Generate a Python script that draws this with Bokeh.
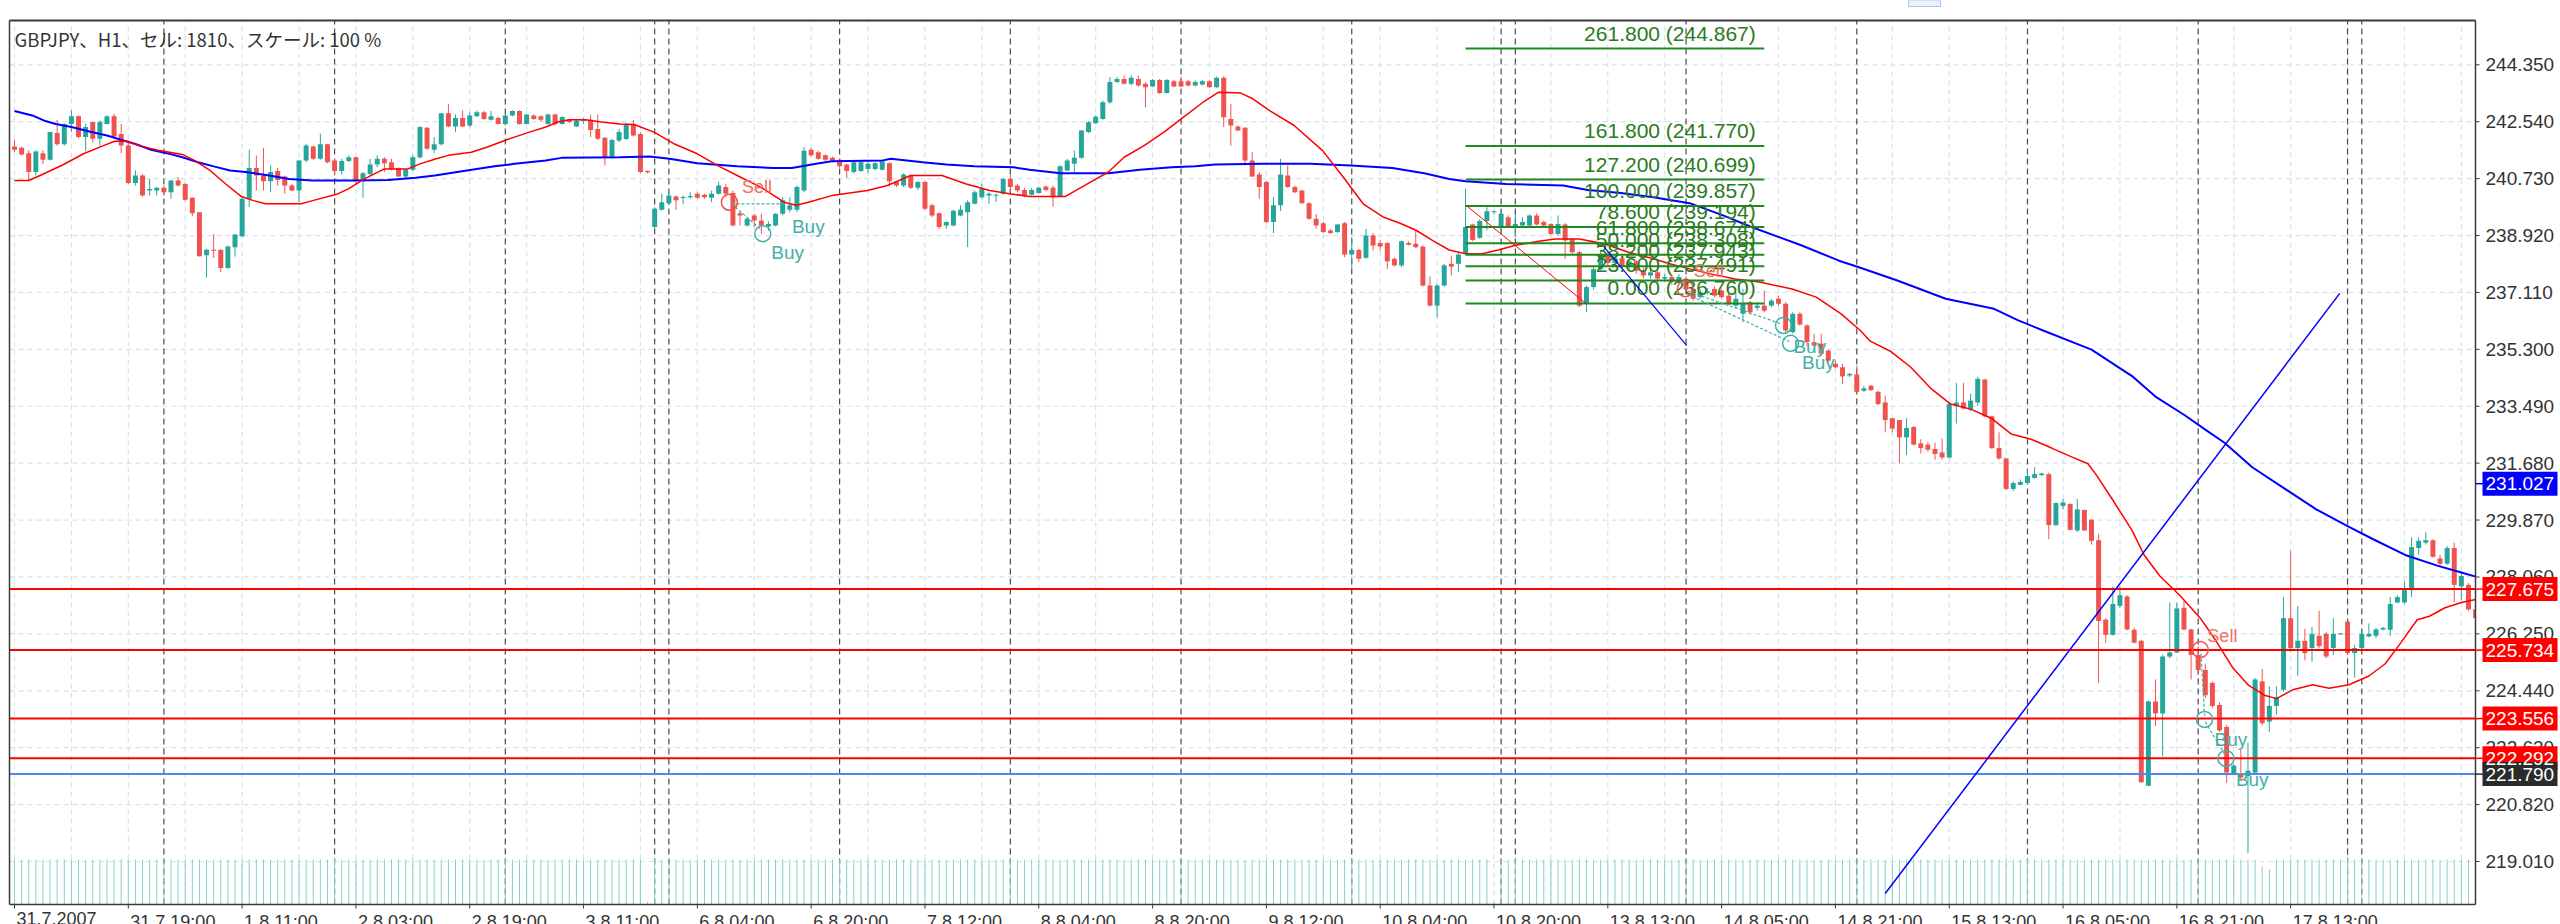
from bokeh.plotting import figure
from bokeh.models import Range1d
from bokeh.core.properties import value
from bokeh.embed import file_html
from bokeh.resources import INLINE

# ---------------- DATA ----------------
title_text = "GBPJPY、H1、セル: 1810、スケール: 100 %"

opens = [
    241.75, 241.71, 241.54, 240.94, 241.54, 241.33, 242.18, 241.82, 242.47, 242.71,
    242.05, 242.53, 242.00, 242.47, 242.71, 242.15, 241.78, 240.59, 240.83, 240.35,
    240.35, 240.44, 240.30, 240.67, 240.56, 240.12, 239.66, 238.29, 238.47, 238.47,
    237.89, 238.55, 238.90, 240.09, 241.07, 240.83, 240.65, 240.97, 240.80, 240.51,
    240.35, 241.31, 241.75, 241.36, 241.82, 241.31, 240.97, 241.29, 241.41, 240.67,
    240.88, 241.18, 241.36, 241.25, 241.07, 240.80, 241.01, 241.41, 242.35, 241.65,
    241.82, 242.81, 242.39, 242.66, 242.42, 242.71, 242.84, 242.60, 242.66, 242.47,
    242.74, 242.88, 242.47, 242.74, 242.71, 242.47, 242.77, 242.47, 242.60, 242.39,
    242.56, 242.60, 242.31, 242.03, 241.39, 241.94, 241.99, 242.45, 242.15, 240.97,
    239.19, 239.74, 239.95, 240.16, 240.12, 240.14, 240.25, 240.22, 240.12, 240.25,
    240.46, 240.27, 239.63, 239.24, 239.56, 239.40, 239.21, 239.24, 239.61, 239.74,
    239.74, 240.35, 241.65, 241.57, 241.47, 241.39, 241.33, 241.18, 240.94, 240.97,
    241.04, 241.04, 241.01, 241.22, 240.62, 240.51, 240.83, 240.44, 240.62, 239.88,
    239.63, 239.24, 239.24, 239.56, 239.66, 239.93, 240.14, 240.19, 240.19, 240.25,
    240.72, 240.51, 240.37, 240.22, 240.27, 240.48, 240.44, 240.16, 240.99, 241.20,
    241.39, 242.21, 242.49, 242.63, 243.16, 243.80, 243.90, 243.75, 243.90, 243.75,
    243.66, 243.87, 243.45, 243.83, 243.83, 243.83, 243.69, 243.72, 243.83, 243.64,
    243.94, 242.63, 242.39, 242.35, 241.31, 240.86, 240.62, 239.35, 239.88, 240.83,
    240.46, 240.35, 239.95, 239.45, 239.31, 239.08, 239.03, 239.31, 238.32, 238.46,
    238.21, 238.92, 238.68, 238.68, 238.18, 237.97, 238.68, 238.66, 238.57, 237.33,
    236.69, 237.33, 238.02, 238.02, 238.34, 239.27, 238.85, 239.38, 239.66, 239.19,
    239.50, 239.19, 239.24, 239.24, 239.56, 239.35, 239.29, 238.97, 239.27, 238.81,
    238.39, 236.75, 237.28, 237.85, 238.30, 238.05, 238.20, 237.95, 238.10, 237.80,
    237.65, 237.75, 237.55, 237.60, 237.45, 237.55, 237.22, 236.96, 237.10, 237.22,
    237.17, 237.01, 236.69, 236.43, 236.80, 236.62, 236.69, 236.69, 236.91, 236.75,
    235.85, 236.43, 236.06, 235.53, 235.48, 235.26, 234.84, 234.73, 234.47, 234.50,
    233.98, 234.14, 233.95, 233.61, 233.11, 233.05, 232.50, 232.83, 232.31, 232.27,
    232.13, 232.02, 231.86, 233.50, 233.61, 233.39, 233.61, 234.34, 233.17, 232.16,
    231.83, 230.86, 230.99, 231.05, 231.21, 231.30, 231.33, 229.71, 230.32, 230.38,
    229.54, 230.19, 229.88, 229.23, 226.70, 226.22, 227.14, 227.44, 226.38, 226.03,
    221.42, 224.10, 223.72, 225.53, 225.66, 227.08, 226.39, 225.58, 225.10, 224.69,
    223.99, 223.29, 221.82, 221.82, 221.73, 221.84, 224.74, 223.46, 223.96, 224.47,
    226.75, 225.80, 226.03, 225.80, 226.19, 226.25, 225.80, 226.24, 226.64, 225.64,
    225.80, 226.17, 226.19, 226.39, 226.38, 227.25, 227.25, 227.64, 228.98, 229.15,
    229.23, 228.65, 228.48, 228.98, 227.76, 227.81, 227.03,
]
highs = [
    241.96, 241.75, 241.63, 241.63, 241.63, 242.21, 242.60, 242.49, 242.90, 242.74,
    242.47, 242.53, 242.58, 242.74, 242.79, 242.47, 241.94, 240.99, 240.88, 240.72,
    240.46, 240.51, 240.69, 240.78, 240.59, 240.14, 239.66, 238.50, 238.97, 238.47,
    238.60, 238.97, 240.12, 241.65, 241.47, 241.71, 241.15, 241.07, 240.83, 240.56,
    241.31, 241.84, 241.78, 242.16, 241.84, 241.36, 241.36, 241.47, 241.43, 240.94,
    241.36, 241.47, 241.41, 241.36, 241.09, 241.04, 241.47, 242.39, 242.37, 242.05,
    242.81, 243.11, 242.77, 242.90, 242.84, 242.90, 242.88, 242.88, 242.71, 242.79,
    242.90, 242.90, 242.79, 242.77, 242.74, 242.79, 242.79, 242.71, 242.63, 242.63,
    242.66, 242.77, 242.77, 242.05, 242.00, 242.31, 242.49, 242.60, 242.21, 240.99,
    239.82, 240.25, 240.30, 240.19, 240.19, 240.30, 240.30, 240.25, 240.35, 240.62,
    240.56, 240.35, 239.69, 239.50, 239.61, 239.61, 239.37, 239.63, 240.14, 240.14,
    240.51, 241.73, 241.71, 241.62, 241.50, 241.43, 241.36, 241.20, 241.28, 241.28,
    241.25, 241.25, 241.33, 241.25, 240.65, 240.90, 240.86, 240.65, 240.65, 239.93,
    239.66, 239.37, 239.74, 239.88, 240.04, 240.35, 240.56, 240.30, 240.25, 240.75,
    240.86, 240.56, 240.44, 240.44, 240.48, 240.51, 240.51, 241.15, 241.36, 241.62,
    242.28, 242.56, 242.74, 243.21, 243.96, 243.96, 244.01, 244.01, 244.01, 243.80,
    243.90, 243.90, 243.90, 243.87, 243.98, 243.87, 243.85, 243.87, 243.87, 243.98,
    243.98, 243.11, 242.42, 242.37, 241.57, 240.94, 240.65, 240.14, 241.36, 241.15,
    240.51, 240.37, 239.98, 239.61, 239.35, 239.13, 239.29, 239.35, 238.87, 238.50,
    239.13, 239.00, 238.78, 238.71, 238.23, 238.76, 238.74, 239.08, 238.60, 237.62,
    237.38, 238.02, 238.28, 238.39, 240.41, 239.29, 239.45, 239.82, 239.72, 239.72,
    239.56, 239.61, 239.50, 239.59, 239.63, 239.40, 239.31, 239.56, 239.31, 238.81,
    238.44, 237.33, 237.95, 238.45, 238.40, 238.30, 238.25, 238.15, 238.15, 237.90,
    237.85, 237.80, 237.70, 237.65, 237.70, 237.62, 237.25, 237.20, 237.25, 237.30,
    237.20, 237.10, 237.12, 237.22, 236.85, 236.80, 237.17, 236.90, 237.01, 236.80,
    236.48, 236.50, 236.10, 235.80, 235.80, 235.30, 234.95, 234.84, 234.55, 234.78,
    234.14, 234.17, 233.98, 233.83, 233.11, 233.05, 233.11, 232.86, 232.44, 232.35,
    232.33, 232.46, 233.61, 234.23, 234.23, 233.89, 234.43, 234.36, 233.20, 232.66,
    231.86, 231.10, 231.16, 231.49, 231.55, 231.38, 231.38, 230.43, 230.54, 230.41,
    230.54, 230.21, 229.90, 229.43, 226.75, 227.76, 227.76, 227.48, 226.44, 226.06,
    224.13, 224.80, 225.58, 227.25, 227.25, 227.31, 226.41, 225.86, 225.30, 224.74,
    224.07, 223.35, 222.12, 222.57, 222.79, 224.85, 225.13, 224.58, 224.58, 227.42,
    228.89, 227.14, 226.41, 226.47, 226.98, 226.31, 226.75, 226.28, 226.64, 225.91,
    226.36, 226.58, 226.44, 226.47, 227.42, 227.48, 227.92, 229.32, 229.32, 229.49,
    229.26, 228.76, 229.04, 229.15, 228.20, 227.87, 227.10,
]
lows = [
    241.57, 241.47, 240.65, 240.83, 241.20, 241.31, 241.78, 241.78, 242.21, 242.00,
    241.60, 241.89, 241.78, 242.45, 242.05, 241.54, 240.56, 240.51, 240.16, 240.19,
    240.19, 240.19, 240.09, 240.48, 240.03, 239.53, 238.25, 237.58, 238.21, 237.76,
    237.86, 238.25, 238.87, 239.84, 240.35, 240.35, 240.30, 240.51, 240.25, 240.33,
    239.98, 241.25, 241.33, 241.33, 241.22, 240.83, 240.86, 241.25, 240.56, 240.12,
    240.83, 241.09, 240.94, 240.99, 240.78, 240.72, 240.97, 241.36, 241.65, 241.54,
    241.78, 242.37, 242.21, 242.37, 242.37, 242.69, 242.60, 242.58, 242.45, 242.42,
    242.71, 242.45, 242.45, 242.60, 242.53, 242.45, 242.42, 242.45, 242.49, 242.37,
    242.47, 242.05, 241.96, 241.15, 241.36, 241.89, 241.96, 242.07, 240.90, 240.90,
    239.13, 239.71, 239.88, 239.74, 239.91, 240.09, 240.09, 240.09, 239.98, 240.22,
    240.14, 239.21, 239.24, 239.21, 239.19, 238.97, 239.08, 239.21, 239.56, 239.66,
    239.66, 240.30, 241.43, 241.33, 241.29, 241.25, 241.07, 240.75, 240.90, 240.94,
    240.90, 240.99, 240.99, 240.48, 240.46, 240.46, 240.40, 240.37, 239.74, 239.50,
    239.13, 239.13, 239.21, 239.53, 238.55, 239.91, 240.09, 239.93, 239.98, 240.22,
    240.30, 240.30, 240.14, 240.19, 240.25, 240.33, 239.84, 240.14, 240.97, 240.94,
    241.36, 242.18, 242.47, 242.60, 243.11, 243.77, 243.72, 243.69, 243.66, 243.00,
    243.64, 243.43, 243.43, 243.64, 243.64, 243.66, 243.66, 243.69, 243.62, 243.62,
    242.37, 241.78, 242.24, 241.15, 240.78, 240.09, 239.31, 239.00, 239.70, 240.44,
    240.27, 239.93, 239.42, 239.13, 239.00, 238.97, 239.00, 238.23, 237.86, 238.07,
    238.18, 238.44, 238.44, 237.86, 237.93, 237.91, 238.60, 238.53, 237.30, 236.66,
    236.32, 237.30, 237.65, 237.75, 238.32, 238.74, 238.81, 239.08, 239.59, 239.03,
    239.16, 238.87, 239.19, 239.21, 239.24, 239.21, 238.95, 238.92, 238.18, 238.34,
    236.64, 236.48, 237.20, 237.80, 237.95, 237.95, 237.85, 237.80, 237.70, 237.55,
    237.55, 237.45, 237.45, 237.35, 237.40, 237.10, 236.85, 236.90, 237.05, 236.95,
    236.90, 236.70, 236.60, 236.16, 236.40, 236.53, 236.48, 236.65, 236.69, 235.85,
    235.80, 236.05, 235.42, 235.36, 235.10, 234.90, 234.70, 234.20, 234.42, 233.89,
    233.95, 233.98, 233.53, 232.66, 232.66, 231.68, 231.94, 232.24, 231.99, 232.05,
    231.79, 231.79, 231.83, 232.94, 233.39, 233.33, 233.50, 233.14, 232.13, 231.79,
    230.82, 230.79, 230.97, 230.99, 231.19, 231.27, 229.26, 229.67, 230.21, 229.54,
    229.49, 229.52, 229.09, 224.69, 225.97, 226.19, 227.08, 226.36, 225.95, 221.51,
    221.40, 223.32, 222.35, 225.47, 225.64, 226.36, 224.80, 224.95, 224.20, 223.90,
    223.13, 221.51, 221.79, 221.56, 219.28, 221.80, 223.35, 223.13, 223.68, 224.41,
    225.69, 224.91, 225.41, 225.36, 225.80, 225.47, 225.58, 226.22, 225.58, 224.86,
    225.75, 226.14, 226.11, 226.36, 226.19, 227.22, 227.20, 227.42, 228.76, 229.09,
    228.67, 228.37, 228.45, 227.25, 227.31, 226.98, 226.70,
]
closes = [
    241.65, 241.50, 240.94, 241.59, 241.33, 242.21, 241.82, 242.47, 242.71, 242.05,
    242.37, 242.00, 242.53, 242.71, 242.07, 241.78, 240.59, 240.83, 240.19, 240.40,
    240.44, 240.30, 240.67, 240.51, 240.06, 239.63, 238.26, 238.47, 238.44, 237.89,
    238.57, 238.95, 240.09, 241.07, 240.83, 240.65, 240.94, 240.69, 240.51, 240.35,
    241.31, 241.78, 241.36, 241.82, 241.25, 240.97, 241.29, 241.41, 240.67, 240.90,
    241.18, 241.36, 241.22, 241.04, 240.80, 241.01, 241.41, 242.37, 241.68, 241.82,
    242.81, 242.39, 242.66, 242.39, 242.74, 242.84, 242.63, 242.71, 242.47, 242.74,
    242.88, 242.47, 242.77, 242.63, 242.60, 242.77, 242.47, 242.69, 242.53, 242.58,
    242.63, 242.28, 242.00, 241.39, 241.96, 242.21, 242.45, 242.10, 240.94, 240.93,
    239.77, 239.98, 240.19, 240.04, 240.14, 240.18, 240.12, 240.14, 240.25, 240.51,
    240.25, 239.24, 239.56, 239.45, 239.40, 239.24, 239.29, 239.61, 240.04, 239.88,
    240.46, 241.62, 241.47, 241.36, 241.33, 241.31, 241.12, 240.97, 241.25, 241.25,
    241.20, 241.22, 241.28, 240.65, 240.51, 240.86, 240.44, 240.62, 239.77, 239.56,
    239.19, 239.35, 239.71, 239.74, 239.98, 240.30, 240.40, 240.25, 240.22, 240.72,
    240.46, 240.35, 240.19, 240.37, 240.44, 240.37, 240.14, 241.12, 241.31, 241.39,
    242.26, 242.52, 242.70, 243.16, 243.80, 243.90, 243.75, 243.94, 243.69, 243.64,
    243.87, 243.45, 243.87, 243.66, 243.66, 243.69, 243.80, 243.83, 243.64, 243.94,
    242.68, 242.42, 242.26, 241.31, 240.80, 240.46, 239.35, 239.88, 240.86, 240.46,
    240.30, 239.95, 239.45, 239.24, 239.03, 239.00, 239.27, 238.32, 238.46, 238.18,
    238.92, 238.60, 238.57, 238.10, 237.97, 238.74, 238.63, 238.55, 237.33, 236.69,
    237.33, 237.97, 237.93, 238.32, 239.19, 238.78, 239.38, 239.69, 239.69, 239.61,
    239.19, 239.29, 239.35, 239.56, 239.27, 239.24, 238.97, 239.29, 238.76, 238.39,
    236.69, 237.28, 237.85, 238.30, 238.05, 238.20, 237.95, 238.10, 237.80, 237.65,
    237.75, 237.55, 237.60, 237.45, 237.60, 237.20, 236.91, 237.12, 237.15, 237.01,
    236.96, 236.75, 236.91, 236.75, 236.48, 236.69, 236.53, 236.85, 236.75, 235.90,
    236.43, 236.09, 235.53, 235.42, 235.16, 234.94, 234.73, 234.44, 234.52, 233.95,
    234.06, 234.00, 233.56, 233.05, 232.78, 232.50, 232.80, 232.27, 232.16, 232.11,
    231.97, 231.86, 233.56, 233.61, 233.42, 233.67, 234.36, 233.17, 232.16, 231.83,
    230.86, 231.05, 231.08, 231.27, 231.33, 231.35, 229.71, 230.41, 230.43, 229.56,
    230.21, 229.54, 229.21, 226.66, 226.22, 227.20, 227.48, 226.39, 225.97, 221.53,
    224.10, 223.72, 225.53, 225.66, 227.06, 226.39, 225.58, 225.10, 224.30, 223.96,
    223.18, 221.84, 222.06, 221.68, 221.90, 224.80, 223.41, 223.96, 224.24, 226.75,
    225.80, 226.03, 225.64, 226.25, 225.86, 225.53, 226.25, 226.26, 225.64, 225.80,
    226.25, 226.25, 226.39, 226.44, 227.20, 227.42, 227.64, 229.01, 229.21, 229.23,
    228.70, 228.48, 228.98, 227.81, 228.09, 227.03, 226.75,
]
volumes = [
    100, 100, 100, 100, 100, 100, 100, 100, 100, 100, 100, 100, 100, 100, 100, 100, 100, 100, 100, 100,
    100, 100, 100, 100, 100, 100, 100, 100, 100, 100, 100, 100, 100, 100, 100, 100, 100, 100, 100, 100,
    100, 100, 100, 100, 100, 100, 100, 100, 100, 100, 100, 100, 100, 100, 100, 100, 100, 100, 100, 100,
    100, 100, 100, 100, 100, 100, 100, 100, 100, 100, 100, 100, 100, 100, 100, 100, 100, 100, 100, 100,
    100, 100, 100, 100, 100, 100, 100, 100, 100, 6, 100, 100, 100, 100, 100, 100, 100, 100, 100, 100,
    100, 100, 100, 100, 100, 100, 100, 100, 100, 100, 100, 100, 100, 100, 100, 100, 100, 100, 100, 100,
    100, 100, 100, 100, 100, 100, 100, 100, 100, 100, 100, 100, 100, 100, 100, 100, 100, 100, 100, 100,
    100, 100, 100, 100, 100, 100, 100, 100, 100, 100, 100, 100, 100, 100, 100, 100, 100, 100, 100, 100,
    100, 100, 100, 100, 100, 100, 100, 100, 100, 100, 100, 100, 100, 100, 100, 100, 100, 100, 100, 100,
    100, 100, 100, 100, 100, 100, 100, 100, 100, 100, 100, 100, 100, 100, 100, 100, 100, 100, 100, 100,
    100, 100, 100, 100, 100, 100, 100, 100, 5, 100, 100, 100, 100, 100, 100, 100, 100, 100, 100, 100,
    100, 100, 100, 100, 100, 100, 100, 100, 100, 100, 100, 100, 100, 100, 100, 100, 100, 100, 100, 100,
    100, 100, 100, 100, 100, 100, 100, 100, 100, 100, 100, 100, 100, 100, 100, 100, 100, 100, 100, 100,
    100, 100, 100, 100, 100, 100, 100, 100, 100, 100, 100, 100, 100, 100, 100, 100, 100, 100, 100, 100,
    100, 100, 100, 100, 100, 100, 100, 100, 100, 100, 100, 100, 100, 100, 100, 100, 100, 100, 100, 100,
    100, 100, 100, 100, 100, 100, 100, 100, 100, 100, 100, 100, 100, 100, 100, 100, 85, 78, 100, 100,
    100, 100, 100, 100, 100, 100, 100, 100, 100, 100, 100, 100, 100, 100, 100, 100, 100, 100, 100, 100,
    100, 100, 100, 100, 100, 100, 100,
]

x_tick_bars = [0, 16, 32, 48, 64, 80, 96, 112, 128, 144, 160, 176, 192, 208, 224, 240, 256, 272, 288, 304, 320]
x_tick_labels = ["31.7.2007", "31.7 19:00", "1.8 11:00", "2.8 03:00", "2.8 19:00", "3.8 11:00",
                 "6.8 04:00", "6.8 20:00", "7.8 12:00", "8.8 04:00", "8.8 20:00", "9.8 12:00",
                 "10.8 04:00", "10.8 20:00", "13.8 13:00", "14.8 05:00", "14.8 21:00", "15.8 13:00",
                 "16.8 05:00", "16.8 21:00", "17.8 13:00"]
y_ticks = [219.010, 220.820, 222.630, 224.440, 226.250, 228.060, 229.870, 231.680,
           233.490, 235.300, 237.110, 238.920, 240.730, 242.540, 244.350]
day_separators = [21, 45, 69, 90, 92, 116, 140, 164, 188, 209, 211, 235, 259, 283, 307, 328, 330]

red_ma_x = [0, 2, 3.6, 6.9, 9.7, 12.5, 14.1, 15.8, 17.5, 20.2, 23.6, 25.3, 27.5, 29.7, 31.9, 33.6, 35.3,
            40.3, 41.9, 45.3, 47, 49.2, 52, 55.3, 57, 59.3, 61, 64.2, 66.4, 69.1, 72.4, 74.7, 76.4, 78,
            80.3, 82.5, 85.1, 87.1, 89.9, 92.7, 96, 98.8, 101.6, 104.9, 107.1, 108.2, 109.9, 111.6, 114.9,
            119.9, 122.7, 126, 130.4, 133.8, 137.1, 139.9, 142.7, 147.7, 150.4, 153.8, 156, 158.8, 161.6,
            164.3, 167.1, 169.3, 172.4, 174.1, 176.4, 179.9, 183.9, 186.8, 189.6, 192.5, 194.8, 197.1,
            199.4, 201.7, 204, 206.3, 208.6, 210.9, 214.3, 216.6, 220, 223.5, 226.9, 230.4, 232.7, 235.5,
            238.4, 241.9, 245.3, 249.9, 253.3, 256.8, 259.5, 260.9, 263.8, 266.6, 269.4, 272.2, 275.1,
            277.9, 280.7, 283.5, 286.4, 289.2, 291.5, 292.6, 294.9, 297.7, 299.4, 301.6, 304.4, 307.3,
            309.5, 311.8, 314, 316.3, 318, 320.3, 323.1, 325.4, 328.2, 331, 333.3, 335.5, 337.8, 339.5,
            341.7, 344, 346.0]
red_ma_y = [240.67, 240.67, 240.83, 241.18, 241.52, 241.78, 241.92, 241.92, 241.78, 241.63, 241.50, 241.31,
            240.99, 240.56, 240.16, 240.03, 239.93, 239.93, 240.03, 240.23, 240.41, 240.72, 241.04, 241.04,
            241.20, 241.36, 241.47, 241.57, 241.73, 241.96, 242.21, 242.37, 242.53, 242.60, 242.60, 242.53,
            242.47, 242.45, 242.21, 241.84, 241.52, 241.15, 240.83, 240.46, 240.14, 239.98, 239.88, 239.98,
            240.19, 240.35, 240.51, 240.83, 240.83, 240.56, 240.35, 240.25, 240.16, 240.16, 240.51, 240.94,
            241.41, 241.78, 242.21, 242.68, 243.16, 243.48, 243.45, 243.27, 242.90, 242.42, 241.62, 240.78,
            239.93, 239.50, 239.31, 239.08, 238.76, 238.46, 238.34, 238.34, 238.46, 238.60, 238.74, 238.81,
            238.81, 238.66, 238.39, 238.18, 238.02, 237.86, 237.70, 237.54, 237.44, 237.22, 236.96, 236.43,
            235.90, 235.56, 235.23, 234.73, 234.06, 233.56, 233.39, 233.11, 232.61, 232.44, 232.16, 231.88,
            231.66, 231.33, 230.54, 229.54, 228.76, 228.09, 227.48, 226.75, 226.03, 225.19, 224.63, 224.30,
            224.19, 224.47, 224.63, 224.52, 224.63, 224.91, 225.30, 225.97, 226.70, 226.81, 227.08, 227.25,
            227.34]
blue_ma_x = [0, 2.5, 4.1, 5.8, 8, 10.8, 13, 15.3, 16.9, 19.2, 21.4, 23.6, 25.8, 28, 30.3, 32.5, 35.8, 38.6,
             41.9, 48.1, 52.5, 56.4, 59.1, 63.6, 67.5, 70.3, 74.7, 76.9, 85.1, 89.3, 92.1, 96, 101.6, 106.6,
             109.3, 112.7, 114.9, 122.1, 123.2, 127.7, 131, 134.9, 140.5, 142.7, 147.1, 153.8, 158.2, 162.7,
             166, 168.8, 175.3, 182.2, 187.9, 193.7, 198.2, 201.7, 204, 209.7, 217.7, 221.2, 225.8, 230.4,
             235.5, 240.2, 244.2, 251.1, 256.5, 259.3, 264.7, 271.5, 278.3, 281.7, 285.2, 292, 297.7, 301.1,
             305, 307.8, 310.7, 314.6, 319.1, 323.6, 328.2, 331.6, 336.1, 340.6, 344, 346.0]
blue_ma_y = [242.88, 242.74, 242.58, 242.47, 242.37, 242.21, 242.10, 241.94, 241.84, 241.65, 241.54, 241.41,
             241.25, 241.12, 240.99, 240.94, 240.83, 240.72, 240.67, 240.67, 240.69, 240.76, 240.83, 240.99,
             241.12, 241.20, 241.31, 241.39, 241.41, 241.43, 241.36, 241.22, 241.12, 241.07, 241.07, 241.20,
             241.28, 241.31, 241.36, 241.25, 241.18, 241.12, 241.09, 241.01, 240.90, 240.90, 241.01, 241.09,
             241.12, 241.18, 241.20, 241.20, 241.15, 241.07, 240.90, 240.72, 240.65, 240.56, 240.51, 240.37,
             240.27, 240.14, 239.95, 239.56, 239.19, 238.62, 238.12, 237.91, 237.49, 236.91, 236.59, 236.22,
             235.90, 235.29, 234.45, 233.78, 233.22, 232.78, 232.33, 231.55, 230.88, 230.21, 229.65, 229.26,
             228.76, 228.42, 228.20, 228.07]

red_levels = [227.675, 225.734, 223.556, 222.292]
blue_level = 221.790
blue_ma_box_value = 231.027

fib_pct = [0.0, 23.6, 38.2, 50.0, 61.8, 78.6, 100.0, 127.2, 161.8, 261.8]
fib_price = [236.760, 237.491, 237.943, 238.308, 238.674, 239.194, 239.857, 240.699, 241.770, 244.867]
fib_span = [204.0, 246.0]
fib_label_bar = 244.8
fib_diag_x = [204.2, 220.9]
fib_diag_y = [239.857, 236.760]

blue_short_x = [223.5, 235.1]
blue_short_y = [238.55, 235.42]
blue_long_x = [263.0, 326.9]
blue_long_y = [217.99, 237.08]

sell_circle_x = [100.5, 234.9, 307.3]
sell_circle_y = [239.98, 237.23, 225.75]
sell_text_x = [104.4, 238.2, 310.4]
sell_text_y = [240.45, 237.78, 226.17]
buy_circle_x = [105.2, 248.7, 249.7, 307.9, 310.9]
buy_circle_y = [238.98, 236.06, 235.49, 223.53, 222.29]
buy_text_x = [111.6, 108.7, 252.4, 253.6, 311.6, 314.6]
buy_text_y = [239.21, 238.38, 235.39, 234.88, 222.89, 221.62]
trade_x0 = [100.8, 100.8, 235.2, 235.2, 307.4, 308.0]
trade_y0 = [239.93, 239.93, 237.15, 237.05, 225.62, 223.45]
trade_x1 = [108.3, 105.0, 248.5, 249.5, 307.9, 310.8]
trade_y1 = [239.93, 239.10, 236.10, 235.55, 223.65, 222.40]

# ---------------- LAYOUT (pixel geometry of the MT4 window) ----------------
W, H = 2560, 924                     # canvas fills the window
PX_X = 7.113                         # pixels per bar
PX_Y = 31.44                         # pixels per yen
X0 = -14.0 / PX_X                    # bar value at canvas left edge
Y_TOP = 219.010 + 861.0 / PX_Y       # price at canvas top edge


def bx(cx):
    return X0 + cx / PX_X


def py(cy):
    return Y_TOP - cy / PX_Y


CH_L, CH_R = bx(9), bx(2475)         # chart area (inside the border)
CH_T, CH_B = py(20), py(904)

GREEN = "#26a69a"
RED = "#ef5350"
FONT = "Liberation Sans"
AX = "#3a3a3a"
TXT = "#333333"

p = figure(width=W, height=H, x_range=Range1d(bx(0), bx(W)), y_range=Range1d(py(H), py(0)),
           output_backend="svg", toolbar_location=None,
           min_border=0, min_border_left=0, min_border_right=0, min_border_top=0, min_border_bottom=0)
p.axis.visible = False
p.grid.visible = False
p.outline_line_color = None
p.background_fill_color = "white"
p.border_fill_color = "white"

# light dashed grid
gx = list(range(0, 347, 8))
p.segment(x0=gx, y0=[CH_B] * len(gx), x1=gx, y1=[CH_T] * len(gx),
          line_color="#d6e2ec", line_dash="5 4", line_width=1.2)
p.segment(x0=[CH_L] * len(y_ticks), y0=y_ticks, x1=[CH_R] * len(y_ticks), y1=y_ticks,
          line_color="#d6e2ec", line_dash="5 4", line_width=1.2)

# day separators
p.segment(x0=day_separators, y0=[CH_B] * len(day_separators), x1=day_separators,
          y1=[CH_T] * len(day_separators), line_color="#4a4a4a", line_dash="6 4", line_width=1.2)

# volumes (bottom strip, 45 px high for the largest value)
idx = list(range(len(opens)))
vol_scale = 45.0 / PX_Y / max(volumes)
p.segment(x0=idx, y0=[CH_B] * len(idx), x1=idx, y1=[CH_B + v * vol_scale for v in volumes],
          line_color="#86cfc7", line_width=1)

# candles
colors = [GREEN if c >= o else RED for o, c in zip(opens, closes)]
min_h = 1.0 / PX_Y
tops, bots = [], []
for o, c in zip(opens, closes):
    t, b = max(o, c), min(o, c)
    if t - b < min_h:
        m = (t + b) / 2
        t, b = m + min_h / 2, m - min_h / 2
    tops.append(t)
    bots.append(b)
p.segment(x0=idx, y0=lows, x1=idx, y1=highs, line_color=colors, line_width=1)
p.vbar(x=idx, top=tops, bottom=bots, width=0.7, fill_color=colors, line_color=None)

# moving averages
p.line(blue_ma_x, blue_ma_y, line_color="#0000ff", line_width=2)
p.line(red_ma_x, red_ma_y, line_color="#ff0000", line_width=1.5)

# horizontal levels
p.segment(x0=[CH_L] * len(red_levels), y0=red_levels, x1=[CH_R] * len(red_levels), y1=red_levels,
          line_color="#ff0000", line_width=2)
p.segment(x0=[CH_L], y0=[blue_level], x1=[CH_R], y1=[blue_level], line_color="#4f86f7", line_width=2)

# fibonacci
n = len(fib_price)
p.segment(x0=[fib_span[0]] * n, y0=fib_price, x1=[fib_span[1]] * n, y1=fib_price,
          line_color="#1f8a1f", line_width=2)
p.line(fib_diag_x, fib_diag_y, line_color="#ff0000", line_width=1)
fib_labels = ["%.3f (%.3f)" % (a, b) for a, b in zip(fib_pct, fib_price)]
p.text(x=[fib_label_bar] * n, y=[v + 4 / PX_Y for v in fib_price], text=fib_labels,
       text_align="right", text_baseline="bottom", text_color="#2a7a22",
       text_font=value(FONT), text_font_size="21px")

# trend lines
p.line(blue_short_x, blue_short_y, line_color="#0000ff", line_width=1.2)
p.line(blue_long_x, blue_long_y, line_color="#0000ff", line_width=1.5)

# trades
p.segment(x0=trade_x0, y0=trade_y0, x1=trade_x1, y1=trade_y1, line_color="#3fb0a5",
          line_width=1.2, line_dash="3 2")
p.scatter(sell_circle_x, sell_circle_y, marker="circle", size=16, fill_color=None,
          line_color="#ef5350", line_width=1.5)
p.scatter(buy_circle_x, buy_circle_y, marker="circle", size=16, fill_color=None,
          line_color="#3fb0a5", line_width=1.5)
p.text(x=sell_text_x, y=sell_text_y, text=["Sell"] * len(sell_text_x), text_align="center",
       text_baseline="middle", text_color="#f0705e", text_font=value(FONT), text_font_size="18px")
p.text(x=buy_text_x, y=buy_text_y, text=["Buy"] * len(buy_text_x), text_align="center",
       text_baseline="middle", text_color="#3fb0a5", text_font=value(FONT), text_font_size="19px")

# white masks outside the chart area
p.quad(left=[CH_R, bx(0), bx(0), bx(0)], right=[bx(W), CH_L, bx(W), bx(W)],
       bottom=[py(H), py(H), py(H), CH_T], top=[py(0), py(0), CH_B, py(0)],
       fill_color="white", line_color=None)

# small tab remnant of the terminal window above the chart
p.quad(left=[bx(1908)], right=[bx(1940)], bottom=[py(6)], top=[py(0)],
       fill_color="#e9f1fc", line_color="#a9c4ea", line_width=1)

# chart border / axes
p.segment(x0=[CH_L, CH_L, CH_R, CH_L], y0=[CH_B, CH_T, CH_B, CH_B],
          x1=[CH_L, CH_R, CH_R, CH_R], y1=[CH_T, CH_T, CH_T, CH_B],
          line_color=AX, line_width=[1.5, 2, 1.5, 1.5])

# y-axis ticks and labels
tick_px_x = 4 / PX_X
p.segment(x0=[CH_R] * len(y_ticks), y0=y_ticks, x1=[CH_R + tick_px_x] * len(y_ticks), y1=y_ticks,
          line_color=AX, line_width=1)
p.text(x=[bx(2485)] * len(y_ticks), y=y_ticks, text=["%.3f" % v for v in y_ticks],
       text_align="left", text_baseline="middle", text_color=TXT,
       text_font=value(FONT), text_font_size="19px")

# x-axis ticks and labels (cut by the window bottom as in the reference)
p.segment(x0=x_tick_bars, y0=[CH_B] * len(x_tick_bars), x1=x_tick_bars,
          y1=[CH_B - 4 / PX_Y] * len(x_tick_bars), line_color=AX, line_width=1)
p.text(x=[b + 2 / PX_X for b in x_tick_bars], y=[py(911)] * len(x_tick_bars), text=x_tick_labels,
       text_align="left", text_baseline="top", text_color=TXT,
       text_font=value(FONT), text_font_size="18px")

# right-side value boxes
box_vals = [blue_ma_box_value] + red_levels + [blue_level]
box_cols = ["#0000ff"] + ["#ff0000"] * len(red_levels) + ["#2b2b2b"]
half_h = 12 / PX_Y
p.segment(x0=[CH_R] * len(box_vals), y0=box_vals, x1=[bx(2483)] * len(box_vals), y1=box_vals,
          line_color=box_cols, line_width=1.5)
p.quad(left=[bx(2482)] * len(box_vals), right=[bx(2557)] * len(box_vals),
       bottom=[v - half_h for v in box_vals], top=[v + half_h for v in box_vals],
       fill_color=box_cols, line_color=None)
p.text(x=[bx(2485)] * len(box_vals), y=box_vals, text=["%.3f" % v for v in box_vals],
       text_align="left", text_baseline="middle", text_color="white",
       text_font=value(FONT), text_font_size="19px")

# title
p.text(x=[bx(14)], y=[py(38)], text=[title_text], text_align="left", text_baseline="middle",
       text_color=TXT, text_font=value("Noto Sans CJK JP"), text_font_size="18.5px")

open("out.html", "w").write(file_html(p, INLINE))
